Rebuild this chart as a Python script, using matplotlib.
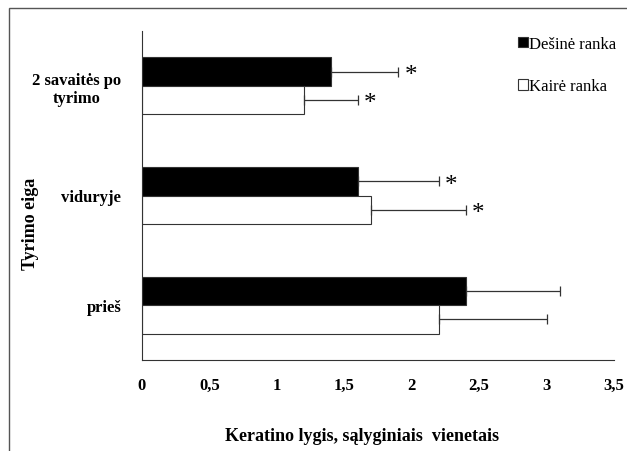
import numpy as np
import matplotlib.pyplot as plt
from matplotlib.patches import Rectangle

plt.rcParams["font.family"] = ["Liberation Serif", "DejaVu Serif"]

categories = ["prieš", "viduryje", "2 savaitės po\ntyrimo"]
right_hand = [2.4, 1.6, 1.4]
right_err = [0.7, 0.6, 0.5]
left_hand = [2.2, 1.7, 1.2]
left_err = [0.8, 0.7, 0.4]
right_star = [False, True, True]
left_star = [False, True, True]

fig = plt.figure(figsize=(6.27, 4.52), dpi=100)
ax = fig.add_axes([142 / 627, 1 - 361 / 452, (614 - 142) / 627, (361 - 32) / 452])

# outer frame like the original document border
fig.patches.append(Rectangle((9 / 627, -0.1), 1.2, 1 - 9 / 452 + 0.1,
                             transform=fig.transFigure, fill=False,
                             edgecolor="#555555", linewidth=1.0))

y = np.arange(len(categories))
h = 0.26
err_kw = dict(ecolor="#333333", elinewidth=0.9, capsize=3.5, capthick=0.9)
ax.barh(y + h / 2, right_hand, height=h, color="black", edgecolor="#333333",
        linewidth=0.8, xerr=[np.zeros(3), right_err], error_kw=err_kw,
        label="Dešinė ranka")
ax.barh(y - h / 2, left_hand, height=h, color="white", edgecolor="#333333",
        linewidth=0.8, xerr=[np.zeros(3), left_err], error_kw=err_kw,
        label="Kairė ranka")

for i in range(len(categories)):
    if right_star[i]:
        ax.text(right_hand[i] + right_err[i] + 0.045, y[i] + h / 2 - 0.03, "*",
                ha="left", va="center", fontsize=18)
    if left_star[i]:
        ax.text(left_hand[i] + left_err[i] + 0.045, y[i] - h / 2 - 0.03, "*",
                ha="left", va="center", fontsize=18)

ax.set_xlim(0, 3.5)
ax.set_ylim(-0.5, 2.5)
ax.set_xticks(np.arange(0, 3.51, 0.5))
ax.set_xticklabels(["0", "0,5", "1", "1,5", "2", "2,5", "3", "3,5"],
                   fontweight="bold", fontsize=12)
ax.set_yticks(y)
ax.set_yticklabels(categories, fontweight="bold", fontsize=12,
                   ha="right", multialignment="center")
ax.tick_params(axis="y", length=0, pad=15)
ax.tick_params(axis="x", length=0, pad=12)
for s in ["top", "right"]:
    ax.spines[s].set_visible(False)
ax.spines["left"].set_color("#333333")
ax.spines["bottom"].set_color("#333333")

fig.text(362 / 627, 1 - 437 / 452, "Keratino lygis, sąlyginiais  vienetais",
         ha="center", va="center", fontsize=13, fontweight="bold")
fig.text(31 / 627, 1 - 224 / 452, "Tyrimo eiga", rotation=90,
         ha="center", va="center", fontsize=13, fontweight="bold")

fig.legend(loc="upper left", bbox_to_anchor=(511 / 627, 1 - 30 / 452),
           frameon=False, fontsize=12, handlelength=0.6, handleheight=0.6,
           handletextpad=0.1, labelspacing=1.6, borderaxespad=0)

fig.savefig("out.png", dpi=100)
